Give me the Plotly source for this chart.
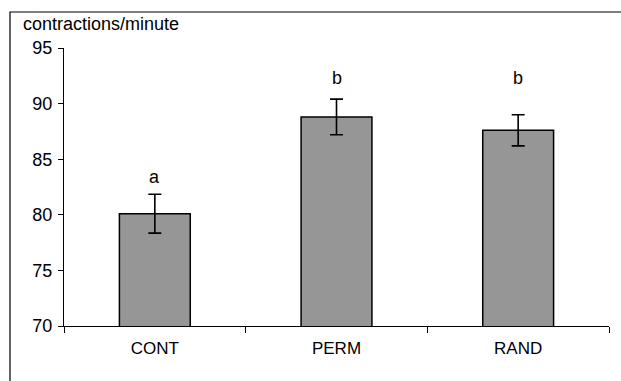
import plotly.graph_objects as go

categories = ["CONT", "PERM", "RAND"]
values = [80.1, 88.8, 87.6]
errors = [1.75, 1.6, 1.4]
letters = ["a", "b", "b"]
letter_y = [83.4, 92.3, 92.3]
y_ticks = [70, 75, 80, 85, 90, 95]

fig = go.Figure()
fig.add_trace(go.Bar(
    x=categories, y=values,
    marker=dict(color="#969696", line=dict(color="black", width=1.5)),
    width=0.39,
    error_y=dict(type="data", array=errors, visible=True, color="black",
                 thickness=1.6, width=6.5),
))

for c, l, ly in zip(categories, letters, letter_y):
    fig.add_annotation(x=c, y=ly, text=l, showarrow=False,
                       font=dict(size=18, color="black"), yanchor="middle")

fig.add_annotation(xref="paper", yref="paper", x=-0.078, y=1.086,
                   text="contractions/minute", showarrow=False,
                   xanchor="left", yanchor="middle",
                   font=dict(size=18, color="black"))

fig.add_shape(type="rect", xref="paper", yref="paper",
              x0=-0.0991, x1=1.2, y0=-0.4, y1=1.1295,
              line=dict(color="black", width=1.2), fillcolor="rgba(0,0,0,0)")

fig.update_layout(
    width=621, height=381,
    margin=dict(l=64, r=12, t=48, b=55),
    paper_bgcolor="white", plot_bgcolor="white",
    font=dict(family="Liberation Sans, Arial, sans-serif", size=18, color="black"),
    showlegend=False,
    bargap=0.61,
)
fig.update_xaxes(
    showline=True, linecolor="black", linewidth=1,
    ticks="outside", tickson="boundaries", ticklen=6, tickcolor="black",
    tickfont=dict(size=17), showgrid=False, ticklabelstandoff=7,
)
fig.update_yaxes(
    range=[70, 95], tickvals=y_ticks,
    showline=True, linecolor="black", linewidth=1,
    ticks="outside", ticklen=5, tickcolor="black",
    tickfont=dict(size=18), showgrid=False, zeroline=False,
    ticklabelstandoff=2,
)

fig.write_html("out.html", config={"displayModeBar": False},
               post_script="document.body.style.margin='0';")
